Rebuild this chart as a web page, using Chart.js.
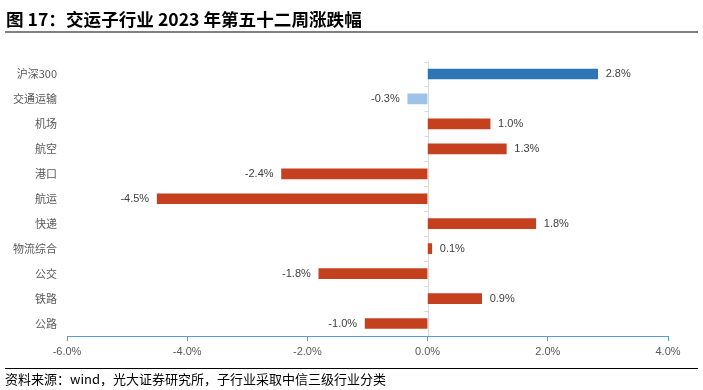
<!DOCTYPE html>
<html>
<head>
<meta charset="utf-8">
<script src="https://cdn.jsdelivr.net/npm/chart.js@4/dist/chart.umd.min.js"></script>
<style>
  html, body { margin: 0; padding: 0; background: #fff; }
  body { width: 703px; height: 390px; position: relative; overflow: hidden; }
  #title { position: absolute; left: 6px; top: 6px; font: bold 17.6px "Noto Sans CJK SC", sans-serif; color: #000; white-space: nowrap; }
  #tline { position: absolute; left: 5px; top: 31px; width: 693px; height: 2px; background: #808080; }
  #bline { position: absolute; left: 5px; top: 368px; width: 693px; height: 1px; background: #000; }
  #source { position: absolute; left: 5px; top: 369px; font: 13px "Noto Sans CJK SC", sans-serif; color: #000; white-space: nowrap; }
  #wrap { position: absolute; left: 0; top: 0; width: 703px; height: 390px; }
</style>
</head>
<body>
<div id="wrap"><canvas id="c" width="703" height="390"></canvas></div>
<div id="title">图 17：交运子行业 2023 年第五十二周涨跌幅</div>
<div id="tline"></div>
<div id="bline"></div>
<div id="source">资料来源：wind，光大证券研究所，子行业采取中信三级行业分类</div>
<script>
const categories = ["沪深300", "交通运输", "机场", "航空", "港口", "航运", "快递", "物流综合", "公交", "铁路", "公路"];
const values = [2.83, -0.33, 1.04, 1.31, -2.43, -4.5, 1.8, 0.07, -1.81, 0.9, -1.04];
const xTickMin = -6;
const xTickMax = 4;
const xTickStep = 2;

const barColors = categories.map((c, i) => i === 0 ? "#2E75B6" : (i === 1 ? "#9DC3E6" : "#C5401F"));

const labelPlugin = {
  id: "barLabels",
  afterDatasetsDraw(chart) {
    const ctx = chart.ctx;
    const meta = chart.getDatasetMeta(0);
    ctx.save();
    ctx.font = '11px "Liberation Sans", Arial, sans-serif';
    ctx.fillStyle = "#404040";
    ctx.textBaseline = "middle";
    meta.data.forEach((el, i) => {
      const v = values[i];
      const txt = v.toFixed(1) + "%";
      if (v >= 0) { ctx.textAlign = "left"; ctx.fillText(txt, el.x + 8, el.y); }
      else { ctx.textAlign = "right"; ctx.fillText(txt, el.x - 8, el.y); }
    });
    ctx.restore();
  },
  beforeDatasetsDraw(chart) {
    const ctx = chart.ctx;
    const xs = chart.scales.x, ys = chart.scales.y;
    const x0 = Math.round(xs.getPixelForValue(0)) + 0.5;
    ctx.save();
    ctx.strokeStyle = "#d9d9d9";
    ctx.lineWidth = 1;
    ctx.beginPath();
    ctx.moveTo(x0, chart.chartArea.top);
    ctx.lineTo(x0, chart.chartArea.bottom);
    const n = categories.length;
    for (let i = 0; i < n; i++) {
      const yb = Math.round(ys.getPixelForValue(i) - (ys.getPixelForValue(1) - ys.getPixelForValue(0)) / 2) + 0.5;
      ctx.moveTo(x0 - 4, yb);
      ctx.lineTo(x0, yb);
    }
    ctx.stroke();
    ctx.restore();
  }
};

new Chart(document.getElementById("c"), {
  type: "bar",
  data: {
    labels: categories,
    datasets: [{
      data: values,
      backgroundColor: barColors,
      borderWidth: 0,
      barThickness: 10
    }]
  },
  options: {
    indexAxis: "y",
    responsive: false,
    animation: false,
    devicePixelRatio: 1,
    layout: { padding: { left: 0, right: 35, top: 61.5, bottom: 0 } },
    plugins: { legend: { display: false }, tooltip: { enabled: false } },
    scales: {
      x: {
        min: xTickMin, max: xTickMax,
        afterFit: s => { s.height = 54; },
        ticks: {
          stepSize: xTickStep,
          callback: v => Number(v).toFixed(1) + "%",
          color: "#595959",
          font: { family: '"Liberation Sans", Arial, sans-serif', size: 11 },
          padding: 4,
          maxRotation: 0
        },
        grid: { drawOnChartArea: false, drawTicks: true, tickLength: 5, tickColor: "#5B9BD5" },
        border: { display: true, color: "#5B9BD5", width: 1 }
      },
      y: {
        afterFit: s => { s.width = 67; },
        ticks: {
          color: "#595959",
          font: { family: '"Noto Sans CJK SC", sans-serif', size: 11 },
          padding: 10,
          autoSkip: false
        },
        grid: { display: false, drawTicks: false },
        border: { display: false }
      }
    }
  },
  plugins: [labelPlugin]
});
</script>
</body>
</html>
